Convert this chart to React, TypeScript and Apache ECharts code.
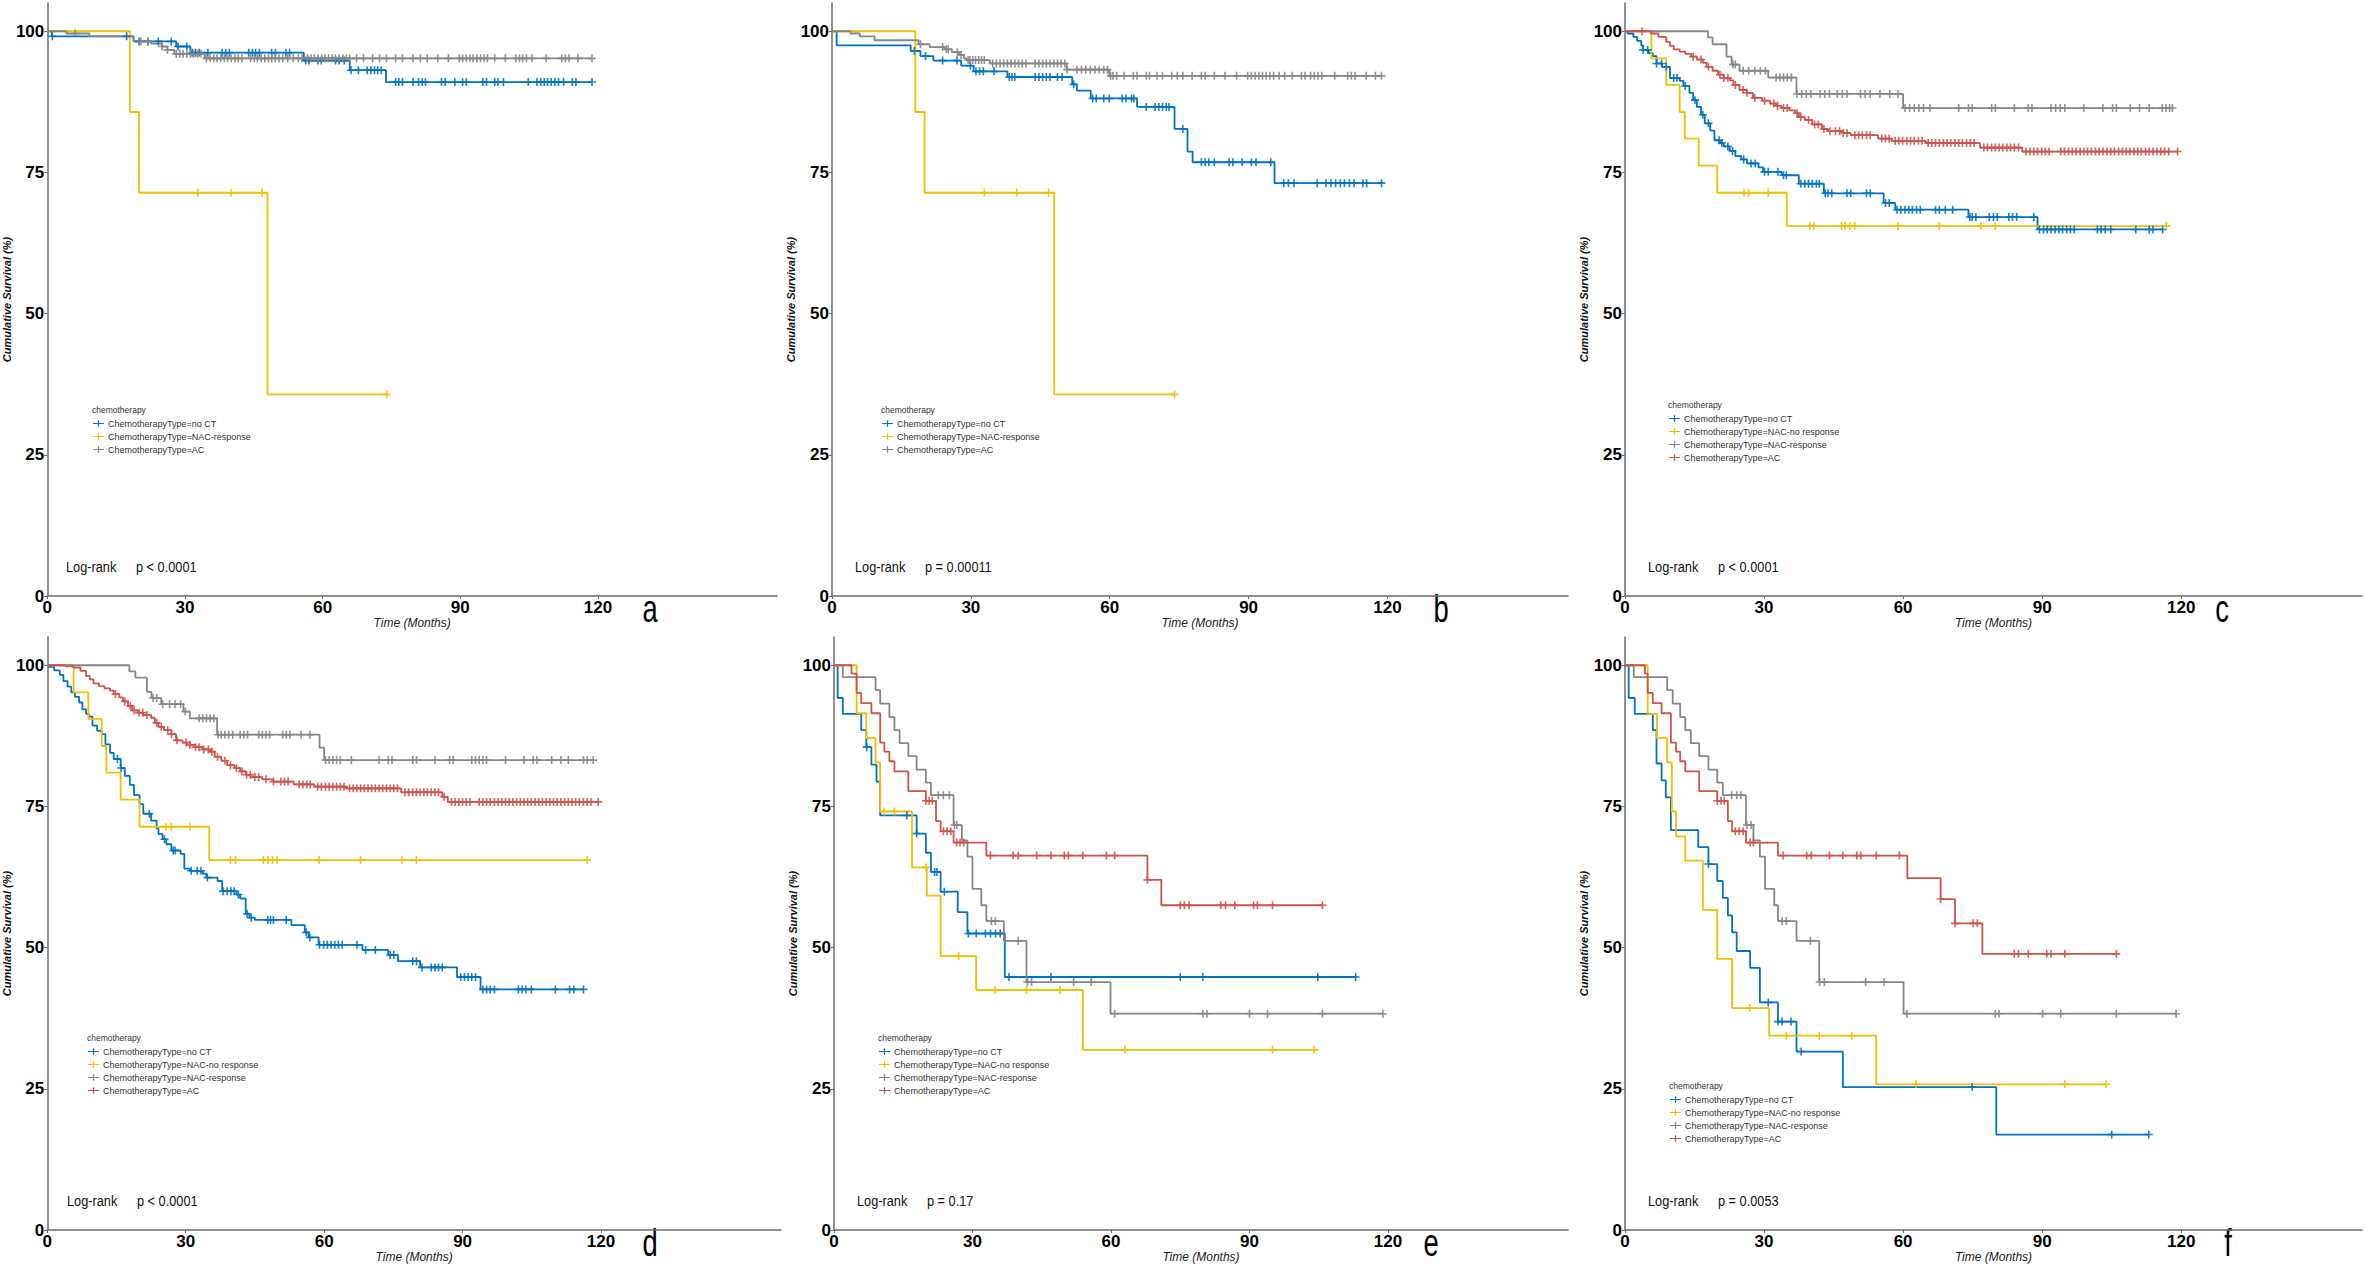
import React, { useEffect, useRef } from "react";
import * as echarts from "echarts";

// ---------------- colours / labels ----------------
const BLUE = "#0073C2";
const YELLOW = "#EFC000";
const GRAY = "#868686";
const RED = "#CD534C";

const LBL_NOCT = "ChemotherapyType=no CT";
const LBL_NACRESP = "ChemotherapyType=NAC-response";
const LBL_NACNO = "ChemotherapyType=NAC-no response";
const LBL_AC = "ChemotherapyType=AC";

const xTicks = [0, 30, 60, 90, 120];
const yTicks = [0, 25, 50, 75, 100];

// ---------------- panel a ----------------
const aNoCT_t = [0, 1.0, 18.8, 28.1, 31.2, 55.9, 65.9, 73.8, 118.7];
const aNoCT_s = [100, 99.1, 98.2, 97.3, 96.2, 94.8, 93.1, 91.0, 91.0];
const aNoCT_c = [1.1, 17.3, 20.0, 21.9, 24.2, 27.0, 28.5, 30.4, 31.6, 32.3, 33.1, 35.0, 38.1, 38.9, 39.7, 43.9, 44.7, 45.4, 46.2, 48.9, 49.7, 52.0, 52.8, 56.3, 57.0, 59.0, 59.7, 62.8, 63.6, 64.7, 66.2, 67.8, 69.7, 70.5, 71.3, 72.0, 72.8, 75.9, 76.6, 77.4, 79.7, 80.9, 81.7, 82.4, 85.9, 86.7, 88.8, 90.5, 91.3, 94.9, 95.7, 97.5, 98.2, 99.4, 104.8, 106.7, 107.5, 108.3, 109.0, 109.8, 110.6, 111.4, 112.5, 114.4, 115.2, 118.7];
const aNAC_t = [0, 18, 20, 48, 74];
const aNAC_s = [100, 85.7, 71.4, 35.7, 35.7];
const aNAC_c = [32.8, 40.0, 46.8, 74];
const aAC_t = [0, 4.2, 9.2, 18.8, 22.7, 25.0, 26.2, 27.7, 34.3, 118.7];
const aAC_s = [100, 99.6, 99.1, 98.2, 97.8, 97.3, 96.7, 96.0, 95.2, 95.2];
const aAC_c = [6.1, 20.4, 21.9, 25.0, 26.2, 28.1, 28.9, 29.6, 30.4, 31.2, 31.9, 32.7, 33.5, 34.7, 35.5, 36.3, 37.0, 37.8, 38.6, 39.3, 40.1, 40.9, 41.6, 42.4, 44.3, 45.1, 45.8, 46.6, 47.4, 48.2, 48.9, 49.7, 50.5, 51.3, 52.4, 53.6, 54.7, 55.5, 56.7, 57.5, 58.2, 59.0, 59.8, 60.5, 61.3, 62.1, 62.8, 63.6, 64.4, 65.2, 65.9, 67.4, 68.9, 70.9, 72.4, 73.9, 75.9, 77.4, 79.7, 81.3, 82.8, 85.1, 87.4, 89.8, 90.5, 91.3, 92.1, 92.8, 93.6, 94.4, 95.2, 95.9, 97.5, 99.8, 102.1, 102.9, 103.6, 104.4, 105.6, 108.7, 112.1, 112.9, 113.7, 115.6, 118.7];

// ---------------- panel b ----------------
const bNoCT_t = [0, 1.0, 17.0, 19.1, 21.9, 27.9, 30.6, 37.9, 51.9, 52.9, 55.9, 65.9, 74.0, 76.8, 77.9, 95.6, 118.7];
const bNoCT_s = [100, 97.5, 96.5, 95.6, 94.8, 93.9, 92.9, 91.9, 90.6, 89.5, 88.1, 86.6, 82.7, 78.7, 76.8, 73.1, 73.1];
const bNoCT_c = [17.8, 20.2, 23.9, 27.0, 29.9, 31.1, 31.9, 32.7, 35.0, 38.3, 38.9, 39.5, 43.9, 44.7, 45.5, 46.3, 47.1, 48.7, 49.7, 52.2, 56.3, 57.1, 58.7, 59.9, 62.7, 63.5, 64.7, 65.2, 67.9, 69.8, 70.6, 71.4, 72.2, 72.8, 75.8, 79.8, 80.6, 81.4, 82.6, 85.8, 86.6, 88.6, 90.6, 91.6, 94.8, 97.6, 98.6, 99.8, 104.8, 106.7, 107.8, 108.8, 109.8, 110.7, 111.8, 112.8, 114.7, 115.5, 118.7];
const bNAC_t = [0, 18, 20, 48, 74];
const bNAC_s = [100, 85.7, 71.4, 35.7, 35.7];
const bNAC_c = [32.9, 39.9, 46.8, 74];
const bAC_t = [0, 4.0, 6.0, 9.2, 18.7, 21.1, 24.3, 25.9, 27.5, 28.5, 29.1, 34.1, 50.7, 59.9, 118.7];
const bAC_s = [100, 99.6, 99.1, 98.4, 97.7, 97.2, 96.8, 96.3, 95.8, 95.2, 94.9, 94.3, 93.2, 92.1, 92.1];
const bAC_c = [19.1, 23.9, 24.7, 25.1, 27.1, 27.9, 29.4, 29.8, 30.4, 31.0, 31.7, 32.3, 32.9, 34.7, 35.5, 36.3, 37.1, 37.9, 38.7, 39.5, 40.3, 41.1, 41.9, 43.9, 44.7, 45.5, 46.3, 47.1, 47.9, 48.7, 49.5, 50.3, 50.8, 52.9, 53.9, 54.8, 55.8, 56.8, 57.7, 58.7, 59.5, 60.2, 60.7, 61.5, 63.1, 65.1, 65.9, 67.9, 68.6, 70.2, 71.4, 73.4, 74.6, 75.8, 77.8, 79.8, 80.6, 82.6, 84.9, 87.4, 89.8, 90.6, 91.4, 92.2, 93.0, 93.8, 94.6, 95.4, 96.6, 97.8, 99.4, 101.4, 102.2, 103.4, 104.2, 105.0, 105.8, 108.6, 111.4, 112.2, 113.0, 115.4, 117.4, 118.7];

// ---------------- panel c ----------------
const cNoCT_t = [0, 0.6, 1.8, 2.6, 3.5, 3.9, 5.1, 6.0, 6.8, 8.0, 9.7, 11.8, 12.6, 13.9, 14.7, 15.5, 16.4, 17.2, 18.4, 19.3, 20.5, 21.3, 22.6, 23.8, 25.1, 26.3, 28.8, 29.8, 33.8, 37.5, 42.9, 55.8, 58.3, 74.1, 89.0, 116.0];
const cNoCT_s = [100, 99.6, 99.0, 98.3, 97.5, 96.7, 96.1, 95.6, 94.3, 93.7, 91.7, 91.2, 90.3, 89.1, 87.8, 86.6, 85.2, 83.7, 82.4, 80.7, 80.2, 79.6, 78.8, 77.9, 77.3, 76.6, 75.9, 75.1, 74.5, 73.0, 71.3, 69.6, 68.4, 67.1, 64.9, 64.9];
const cNoCT_c = [3.9, 4.9, 6.8, 7.9, 8.9, 10.5, 11.2, 13.0, 15.1, 16.8, 18.0, 20.3, 20.9, 22.2, 23.2, 25.6, 27.2, 28.1, 30.1, 30.9, 33.0, 34.2, 34.8, 37.9, 38.8, 39.6, 40.4, 41.3, 41.9, 43.2, 43.8, 44.6, 47.9, 48.7, 52.1, 52.9, 56.2, 57.0, 58.7, 59.5, 60.4, 61.2, 62.0, 62.9, 63.7, 67.0, 67.8, 69.1, 70.7, 74.4, 74.9, 75.7, 78.6, 79.5, 80.3, 82.8, 83.6, 84.5, 88.2, 89.4, 90.3, 91.1, 91.9, 92.8, 93.6, 94.4, 95.3, 96.1, 96.9, 101.9, 102.7, 103.6, 104.8, 110.2, 113.1, 113.9, 116.0];
const cNACno_t = [0, 5.7, 8.9, 11.8, 12.9, 15.9, 19.9, 34.9, 116.8];
const cNACno_s = [100, 95.2, 90.5, 85.7, 81.0, 76.2, 71.4, 65.5, 65.5];
const cNACno_c = [25.7, 26.7, 30.9, 39.9, 40.7, 46.7, 47.5, 48.5, 49.6, 58.9, 67.8, 76.8, 79.9, 116.8];
const cNACresp_t = [0, 17.9, 18.9, 21.9, 23.0, 24.7, 30.9, 37.0, 60.0, 118.1];
const cNACresp_s = [100, 98.9, 97.7, 95.5, 94.1, 93.0, 91.8, 88.9, 86.4, 86.4];
const cNACresp_c = [23.3, 23.8, 25.5, 26.7, 28.0, 29.2, 30.3, 32.6, 33.4, 34.2, 35.0, 35.9, 37.1, 38.1, 39.1, 40.1, 42.1, 43.1, 44.1, 45.8, 46.9, 47.9, 50.8, 51.8, 52.9, 55.0, 57.1, 58.9, 60.4, 61.4, 62.4, 63.4, 64.4, 65.8, 72.0, 74.1, 74.9, 79.1, 79.9, 84.0, 87.0, 87.8, 91.9, 92.9, 93.9, 94.9, 99.0, 103.1, 105.2, 106.0, 109.0, 111.0, 113.1, 115.9, 116.7, 117.5, 118.1];
const cAC_t = [0, 5.6, 7.2, 8.9, 9.7, 10.5, 11.8, 13.0, 14.3, 15.5, 16.8, 17.6, 18.9, 20.1, 21.3, 22.6, 23.4, 24.7, 26.3, 27.6, 29.6, 31.3, 32.6, 33.8, 35.5, 36.7, 37.5, 38.8, 40.4, 42.5, 43.8, 47.1, 48.7, 54.6, 57.5, 64.9, 76.6, 85.7, 119.2];
const cAC_s = [100, 99.6, 99.0, 98.1, 97.4, 96.8, 96.4, 96.0, 95.5, 95.0, 94.4, 93.7, 93.0, 92.3, 91.7, 91.3, 90.5, 89.6, 89.1, 88.2, 87.7, 87.2, 86.8, 86.4, 86.0, 85.5, 84.8, 84.3, 83.5, 82.7, 82.3, 82.0, 81.6, 81.0, 80.6, 80.2, 79.4, 78.7, 78.7];
const cAC_c = [3.7, 14.7, 16.4, 18.0, 20.5, 21.3, 22.2, 23.8, 25.5, 26.3, 28.0, 30.1, 32.1, 32.9, 34.2, 35.0, 37.1, 37.9, 39.6, 40.9, 41.7, 42.9, 44.2, 45.4, 46.3, 47.1, 47.9, 49.6, 50.4, 51.2, 52.1, 52.9, 55.4, 56.2, 57.0, 58.3, 59.1, 59.9, 60.8, 61.6, 62.4, 63.3, 64.1, 65.4, 66.2, 67.0, 67.8, 68.7, 69.5, 70.3, 71.2, 72.0, 72.8, 73.7, 74.5, 75.3, 77.4, 78.2, 79.1, 79.9, 80.7, 81.5, 82.4, 83.2, 84.0, 84.9, 86.5, 87.4, 88.2, 89.0, 89.9, 90.7, 91.5, 94.0, 94.8, 95.7, 96.5, 97.3, 98.2, 99.0, 99.8, 100.6, 101.5, 102.3, 103.1, 104.0, 104.8, 105.6, 106.5, 107.3, 108.1, 108.9, 109.8, 110.6, 111.4, 112.3, 113.1, 113.9, 114.8, 115.6, 116.4, 117.3, 119.2];

// ---------------- panel d ----------------
const dNoCT_t = [0, 0.3, 1.5, 2.7, 3.5, 4.4, 5.2, 6.0, 6.9, 7.6, 8.4, 9.0, 9.8, 10.8, 11.8, 12.6, 13.6, 14.4, 15.9, 16.8, 17.9, 18.8, 20.0, 20.8, 22.5, 23.7, 24.1, 25.0, 25.8, 26.9, 28.9, 29.7, 30.9, 33.7, 34.5, 36.9, 37.9, 41.0, 41.8, 43.0, 43.8, 45.0, 52.9, 55.8, 56.6, 58.8, 68.3, 73.9, 76.0, 80.8, 88.8, 93.9, 116.2];
const dNoCT_s = [100, 99.7, 99.1, 98.3, 97.2, 96.2, 95.2, 94.4, 93.4, 92.2, 91.4, 90.9, 89.3, 88.4, 87.8, 86.0, 84.5, 83.4, 81.8, 80.4, 78.8, 77.0, 75.4, 73.7, 72.5, 71.1, 70.1, 69.2, 68.3, 67.2, 66.6, 64.0, 63.6, 63.1, 62.4, 61.8, 60.0, 59.4, 58.7, 56.0, 55.3, 54.9, 54.0, 52.7, 51.8, 50.5, 49.6, 48.7, 47.6, 46.5, 44.8, 42.6, 42.6];
const dNoCT_c = [15.2, 16.0, 22.1, 25.4, 27.3, 27.7, 31.2, 32.5, 33.3, 34.7, 38.1, 39.0, 39.8, 40.5, 41.4, 43.3, 44.2, 47.8, 48.4, 49.0, 51.8, 56.1, 56.9, 59.0, 59.9, 60.7, 61.5, 62.3, 63.1, 63.9, 67.1, 69.0, 71.1, 74.3, 75.1, 79.2, 80.0, 81.2, 83.2, 84.0, 84.8, 85.6, 89.6, 90.4, 91.2, 92.0, 92.8, 94.4, 95.2, 96.0, 96.9, 102.1, 102.9, 103.7, 104.9, 110.1, 113.2, 114.1, 116.2];
const dNACno_t = [0, 5.7, 8.9, 11.8, 12.8, 15.9, 20.0, 35.1, 117.0];
const dNACno_s = [100, 95.2, 90.5, 85.7, 81.0, 76.2, 71.4, 65.5, 65.5];
const dNACno_c = [25.7, 26.9, 30.9, 39.7, 40.8, 46.8, 47.8, 48.8, 49.8, 58.9, 67.9, 76.9, 80.0, 117.0];
const dNACresp_t = [0, 17.8, 19.1, 21.6, 22.6, 24.7, 29.5, 30.9, 36.8, 59.0, 60.0, 118.3];
const dNACresp_s = [100, 98.9, 97.8, 95.3, 94.2, 93.1, 91.8, 90.6, 87.7, 85.4, 83.2, 83.2];
const dNACresp_c = [22.9, 23.7, 25.0, 26.5, 27.7, 28.9, 29.9, 32.9, 33.7, 34.5, 35.3, 36.1, 37.0, 37.7, 38.5, 39.3, 40.2, 41.8, 42.6, 43.4, 45.8, 46.6, 47.4, 48.2, 51.0, 51.8, 52.6, 55.0, 56.9, 60.3, 61.1, 61.9, 62.7, 63.5, 65.9, 71.9, 73.9, 74.7, 79.2, 80.0, 84.0, 87.2, 88.0, 92.0, 92.8, 93.6, 94.4, 95.2, 99.3, 103.3, 105.3, 106.1, 109.3, 111.3, 112.9, 116.2, 117.0, 118.3];
const dAC_t = [0, 4.0, 5.6, 7.2, 8.4, 9.2, 10.0, 11.2, 12.4, 13.6, 14.4, 15.6, 16.4, 17.5, 18.4, 19.6, 20.8, 22.5, 23.3, 24.1, 25.3, 26.9, 27.9, 29.3, 30.9, 32.1, 33.7, 35.3, 36.3, 37.7, 39.0, 40.6, 41.8, 43.0, 44.2, 46.6, 49.0, 53.4, 57.8, 64.7, 76.7, 85.6, 86.8, 119.4];
const dAC_s = [100, 99.8, 99.6, 99.0, 98.1, 97.5, 96.8, 96.3, 95.9, 95.5, 94.9, 94.3, 93.6, 92.8, 92.0, 91.6, 91.2, 90.7, 89.8, 89.1, 88.5, 87.8, 86.7, 86.3, 85.9, 85.5, 85.1, 84.7, 83.8, 83.1, 82.3, 81.8, 81.2, 80.6, 80.2, 79.8, 79.4, 78.9, 78.5, 78.2, 77.5, 76.7, 75.8, 75.8];
const dAC_c = [14.8, 16.8, 18.0, 18.8, 19.9, 20.7, 21.6, 23.7, 24.7, 26.1, 26.9, 28.1, 30.1, 30.9, 32.1, 32.9, 33.9, 34.9, 35.7, 36.9, 38.5, 39.7, 41.0, 42.2, 43.2, 44.0, 45.0, 45.8, 47.4, 49.0, 50.6, 51.4, 52.2, 54.6, 55.4, 56.2, 57.0, 58.6, 59.4, 60.3, 61.1, 61.9, 62.7, 63.5, 64.3, 65.5, 66.3, 67.1, 67.9, 68.7, 69.5, 70.3, 71.1, 71.9, 72.7, 73.5, 74.3, 75.1, 75.9, 77.5, 78.3, 79.2, 80.0, 80.8, 81.6, 82.4, 83.2, 84.0, 84.8, 86.0, 87.6, 88.4, 89.2, 90.0, 90.8, 91.6, 93.6, 94.4, 95.2, 96.0, 96.9, 97.7, 98.5, 99.3, 100.1, 100.9, 101.7, 102.5, 103.3, 104.1, 104.9, 105.7, 106.5, 107.3, 108.1, 108.9, 109.7, 110.5, 111.3, 112.1, 112.9, 113.7, 114.5, 115.3, 116.2, 117.0, 117.8, 119.4];

// ---------------- panel e ----------------
const eNoCT_t = [0, 0.8, 1.9, 5.9, 7.0, 8.1, 9.2, 10.0, 17.9, 19.9, 21.0, 23.1, 26.8, 28.9, 37.0, 113.0];
const eNoCT_s = [100, 94.2, 91.4, 88.5, 85.5, 82.4, 79.4, 73.4, 70.2, 66.8, 63.4, 59.9, 56.3, 52.5, 44.8, 44.8];
const eNoCT_c = [7.1, 15.8, 17.9, 21.8, 22.3, 23.9, 29.1, 30.8, 32.8, 33.9, 35.0, 36.0, 37.9, 47.0, 75.0, 79.9, 104.8, 113.0];
const eNACno_t = [0, 4.9, 7.0, 9.0, 10.0, 16.9, 20.1, 23.1, 30.8, 53.9, 104.0];
const eNACno_s = [100, 91.5, 87.1, 82.8, 74.1, 64.2, 59.2, 48.5, 42.5, 31.9, 31.9];
const eNACno_c = [10.9, 13.1, 19.9, 27.0, 34.9, 41.7, 49.0, 63.0, 95.0, 104.0];
const eNACresp_t = [0, 1.9, 9.0, 10.0, 12.0, 13.1, 14.2, 16.1, 17.9, 19.9, 21.0, 25.9, 27.7, 28.9, 30.0, 31.9, 33.0, 36.8, 41.7, 59.9, 118.9];
const eNACresp_s = [100, 97.9, 95.6, 93.2, 90.8, 88.5, 86.2, 83.9, 81.5, 79.2, 77.0, 71.7, 69.0, 66.1, 60.4, 57.5, 54.7, 51.2, 43.9, 38.3, 38.3];
const eNACresp_c = [22.6, 23.7, 25.0, 26.1, 26.6, 34.1, 34.9, 39.9, 41.9, 42.8, 51.9, 55.7, 60.8, 79.9, 80.8, 90.0, 93.9, 105.8, 118.9];
const eAC_t = [0, 3.8, 4.9, 5.9, 8.1, 10.0, 10.9, 12.0, 13.1, 16.1, 19.9, 22.1, 23.1, 25.9, 33.0, 67.9, 70.9, 105.8];
const eAC_s = [100, 98.5, 95.1, 93.3, 91.5, 86.3, 84.7, 83.0, 81.2, 77.7, 76.0, 72.4, 70.6, 68.6, 66.3, 62.0, 57.5, 57.5];
const eAC_c = [19.9, 20.6, 21.3, 23.7, 24.5, 25.3, 26.6, 27.3, 28.1, 33.9, 38.8, 39.9, 43.9, 47.0, 49.9, 50.8, 53.9, 59.0, 60.8, 67.9, 75.0, 75.9, 76.9, 83.8, 84.8, 86.8, 90.9, 91.7, 95.0, 105.8];

// ---------------- panel f ----------------
const fNoCT_t = [0, 0.8, 2.1, 6.0, 6.8, 7.9, 8.8, 9.9, 15.8, 18.0, 19.9, 21.1, 22.2, 23.1, 24.1, 27.0, 29.1, 33.0, 37.0, 47.0, 80.1, 113.0];
const fNoCT_s = [100, 94.2, 91.4, 88.5, 82.6, 79.6, 76.6, 70.8, 67.8, 64.8, 61.8, 58.8, 55.7, 52.7, 49.4, 46.4, 40.3, 36.9, 31.6, 25.3, 16.9, 16.9];
const fNoCT_c = [18.0, 30.9, 33.0, 33.9, 35.8, 38.0, 74.9, 105.0, 113.0];
const fNACno_t = [0, 4.9, 6.9, 9.1, 10.1, 11.0, 13.0, 16.8, 19.9, 23.1, 31.1, 54.2, 103.8];
const fNACno_s = [100, 91.4, 87.1, 82.8, 74.1, 69.7, 65.4, 56.7, 48.0, 39.3, 34.4, 25.8, 25.8];
const fNACno_c = [26.9, 34.8, 41.9, 48.9, 62.8, 94.9, 103.8];
const fNACresp_t = [0, 1.9, 9.1, 10.3, 11.9, 13.0, 14.2, 16.0, 18.0, 19.9, 21.1, 26.1, 27.7, 29.1, 30.2, 32.2, 33.0, 37.0, 41.9, 60.1, 118.9];
const fNACresp_s = [100, 97.9, 95.6, 93.2, 90.8, 88.5, 86.2, 83.9, 81.5, 79.2, 77.0, 71.7, 69.0, 66.1, 60.4, 57.5, 54.7, 51.2, 43.9, 38.3, 38.3];
const fNACresp_c = [23.0, 24.1, 25.0, 26.3, 27.2, 33.9, 34.8, 40.0, 42.0, 43.0, 51.9, 55.9, 60.8, 79.9, 80.7, 90.1, 94.0, 106.0, 118.9];
const fAC_t = [0, 4.3, 4.9, 6.0, 7.9, 9.9, 11.0, 11.9, 13.0, 16.0, 19.9, 22.2, 23.1, 26.1, 33.0, 60.9, 68.1, 71.2, 77.1, 106.0];
const fAC_s = [100, 98.5, 95.1, 93.3, 91.5, 86.3, 84.7, 83.0, 81.2, 77.7, 76.0, 72.4, 70.6, 68.6, 66.3, 62.3, 58.6, 54.3, 48.9, 48.9];
const fAC_c = [19.9, 20.7, 21.4, 23.8, 24.6, 25.5, 27.0, 27.7, 34.1, 39.2, 40.2, 44.1, 47.0, 50.0, 50.9, 54.2, 59.2, 68.1, 71.2, 75.1, 76.0, 84.0, 84.9, 87.0, 91.0, 91.9, 94.9, 106.0];

const pValues = ["p < 0.0001", "p = 0.00011", "p < 0.0001", "p < 0.0001", "p = 0.17", "p = 0.0053"];
const panelLetters = ["a", "b", "c", "d", "e", "f"];

// ---------------- layout (pixels) ----------------
const NARROW = "'Liberation Sans Narrow', 'Arial Narrow', 'Liberation Sans', sans-serif";
const SANS = "'Liberation Sans', Arial, sans-serif";
const X_MAX = 159;
const Y_MAX = 105;

type Curve = { label: string; color: string; t: number[]; s: number[]; c: number[] };
type Layout = { left: number; top: number; width: number; height: number; legX: number; legY: number; letterX: number; letterY: number };

const layouts: Layout[] = [
  { left: 43, top: 3, width: 734, height: 593, legX: 92, legY: 410, letterX: 650, letterY: 628 },
  { left: 832, top: 3, width: 736, height: 593, legX: 881, legY: 410, letterX: 1441, letterY: 628 },
  { left: 1625, top: 3, width: 737, height: 593, legX: 1668, legY: 405, letterX: 2222, letterY: 628 },
  { left: 44, top: 637, width: 737, height: 593, legX: 87, legY: 1038, letterX: 650, letterY: 1262 },
  { left: 834, top: 637, width: 734, height: 593, legX: 878, legY: 1038, letterX: 1431, letterY: 1262 },
  { left: 1625, top: 637, width: 737, height: 593, legX: 1669, legY: 1086, letterX: 2228, letterY: 1262 },
];

const panels: Curve[][] = [
  [
    { label: LBL_NOCT, color: BLUE, t: aNoCT_t, s: aNoCT_s, c: aNoCT_c },
    { label: LBL_NACRESP, color: YELLOW, t: aNAC_t, s: aNAC_s, c: aNAC_c },
    { label: LBL_AC, color: GRAY, t: aAC_t, s: aAC_s, c: aAC_c },
  ],
  [
    { label: LBL_NOCT, color: BLUE, t: bNoCT_t, s: bNoCT_s, c: bNoCT_c },
    { label: LBL_NACRESP, color: YELLOW, t: bNAC_t, s: bNAC_s, c: bNAC_c },
    { label: LBL_AC, color: GRAY, t: bAC_t, s: bAC_s, c: bAC_c },
  ],
  [
    { label: LBL_NOCT, color: BLUE, t: cNoCT_t, s: cNoCT_s, c: cNoCT_c },
    { label: LBL_NACNO, color: YELLOW, t: cNACno_t, s: cNACno_s, c: cNACno_c },
    { label: LBL_NACRESP, color: GRAY, t: cNACresp_t, s: cNACresp_s, c: cNACresp_c },
    { label: LBL_AC, color: RED, t: cAC_t, s: cAC_s, c: cAC_c },
  ],
  [
    { label: LBL_NOCT, color: BLUE, t: dNoCT_t, s: dNoCT_s, c: dNoCT_c },
    { label: LBL_NACNO, color: YELLOW, t: dNACno_t, s: dNACno_s, c: dNACno_c },
    { label: LBL_NACRESP, color: GRAY, t: dNACresp_t, s: dNACresp_s, c: dNACresp_c },
    { label: LBL_AC, color: RED, t: dAC_t, s: dAC_s, c: dAC_c },
  ],
  [
    { label: LBL_NOCT, color: BLUE, t: eNoCT_t, s: eNoCT_s, c: eNoCT_c },
    { label: LBL_NACNO, color: YELLOW, t: eNACno_t, s: eNACno_s, c: eNACno_c },
    { label: LBL_NACRESP, color: GRAY, t: eNACresp_t, s: eNACresp_s, c: eNACresp_c },
    { label: LBL_AC, color: RED, t: eAC_t, s: eAC_s, c: eAC_c },
  ],
  [
    { label: LBL_NOCT, color: BLUE, t: fNoCT_t, s: fNoCT_s, c: fNoCT_c },
    { label: LBL_NACNO, color: YELLOW, t: fNACno_t, s: fNACno_s, c: fNACno_c },
    { label: LBL_NACRESP, color: GRAY, t: fNACresp_t, s: fNACresp_s, c: fNACresp_c },
    { label: LBL_AC, color: RED, t: fAC_t, s: fAC_s, c: fAC_c },
  ],
];

const PLUS = "path://M4,0H6V4H10V6H6V10H4V6H0V4H4Z";
const LEG_ICON = "path://M0,3.4H12V4.6H0Z M5.3,0.5H6.7V7.5H5.3Z";
const AXIS_COLOR = "#6b6b6b";

function survAt(t: number[], s: number[], time: number): number {
  let v = s[0];
  for (let i = 0; i < t.length; i++) {
    if (t[i] <= time + 1e-9) v = s[i];
    else break;
  }
  return v;
}

function buildOption() {
  const grid: any[] = [];
  const xAxis: any[] = [];
  const yAxis: any[] = [];
  const series: any[] = [];
  const legend: any[] = [];
  const graphic: any[] = [];

  panels.forEach((curves, i) => {
    const L = layouts[i];
    grid.push({ left: L.left, top: L.top, width: L.width, height: L.height, containLabel: false });
    xAxis.push({
      type: "value",
      gridIndex: i,
      min: 0,
      max: X_MAX,
      splitLine: { show: false },
      axisLine: { show: true, lineStyle: { color: AXIS_COLOR, width: 1.5 } },
      axisTick: { show: true, length: 3, customValues: xTicks, lineStyle: { color: AXIS_COLOR, width: 1 } },
      axisLabel: { customValues: xTicks, margin: 3, fontFamily: NARROW, fontWeight: "bold", fontSize: 17, color: "#000" },
      name: "Time (Months)",
      nameLocation: "middle",
      nameGap: 19,
      nameTextStyle: { fontFamily: NARROW, fontStyle: "italic", fontSize: 12, color: "#222" },
    });
    yAxis.push({
      type: "value",
      gridIndex: i,
      min: 0,
      max: Y_MAX,
      splitLine: { show: false },
      axisLine: { show: true, lineStyle: { color: AXIS_COLOR, width: 1.5 } },
      axisTick: { show: true, length: 3, customValues: yTicks, lineStyle: { color: AXIS_COLOR, width: 1 } },
      axisLabel: { customValues: yTicks, margin: 3, fontFamily: NARROW, fontWeight: "bold", fontSize: 17, color: "#000" },
      name: "Cumulative Survival (%)",
      nameLocation: "middle",
      nameGap: 26,
      nameTextStyle: { fontFamily: SANS, fontStyle: "italic", fontWeight: "bold", fontSize: 11, color: "#111" },
    });

    const names: string[] = [];
    curves.forEach((cv) => {
      const name = panelLetters[i] + "|" + cv.label;
      names.push(name);
      const pts = cv.t.map((tt, k) => [tt, cv.s[k]]);
      series.push({
        type: "line",
        name,
        xAxisIndex: i,
        yAxisIndex: i,
        step: "end",
        data: pts,
        showSymbol: false,
        symbol: "none",
        silent: true,
        lineStyle: { color: cv.color, width: 1.8 },
        itemStyle: { color: cv.color },
        z: 2,
      });
      series.push({
        type: "scatter",
        name,
        xAxisIndex: i,
        yAxisIndex: i,
        data: cv.c.map((ct) => [ct, survAt(cv.t, cv.s, ct)]),
        symbol: PLUS,
        symbolSize: 8,
        silent: true,
        itemStyle: { color: cv.color, opacity: 0.9 },
        z: 3,
      });
    });

    legend.push({
      orient: "vertical",
      left: L.legX + 1,
      top: L.legY + 9,
      data: names.map((n, k) => ({ name: n, icon: LEG_ICON, itemStyle: { color: curves[k].color } })),
      itemWidth: 11,
      itemHeight: 8,
      itemGap: 4,
      padding: 0,
      selectedMode: false,
      formatter: (n: string) => n.split("|")[1],
      textStyle: { fontFamily: NARROW, fontSize: 9, color: "#333", padding: [0, 0, 0, -1] },
    });

    graphic.push({
      type: "text",
      left: L.legX,
      top: L.legY - 5,
      style: { text: "chemotherapy", fontFamily: NARROW, fontSize: 8.5, fill: "#333" },
    });
    graphic.push({
      type: "text",
      x: L.left + 23,
      y: L.top + L.height - 29,
      scaleX: 0.85,
      style: { text: "Log-rank", fontFamily: NARROW, fontSize: 15, fill: "#111", verticalAlign: "middle" },
    });
    graphic.push({
      type: "text",
      x: L.left + 93,
      y: L.top + L.height - 29,
      scaleX: 0.85,
      style: { text: pValues[i], fontFamily: NARROW, fontSize: 15, fill: "#111", verticalAlign: "middle" },
    });
    graphic.push({
      type: "text",
      x: L.letterX,
      y: L.letterY,
      scaleX: 0.72,
      style: { text: panelLetters[i], fontFamily: NARROW, fontSize: 38, fill: "#000", align: "center", verticalAlign: "bottom" },
    });
  });

  return {
    animation: false,
    backgroundColor: "#ffffff",
    grid,
    xAxis,
    yAxis,
    series,
    legend,
    graphic,
  };
}

export default function App() {
  const ref = useRef<HTMLDivElement>(null);
  useEffect(() => {
    document.body.style.margin = "0";
    const chart = echarts.init(ref.current as HTMLDivElement, null, { renderer: "svg" });
    chart.setOption(buildOption() as any);
    return () => {
      chart.dispose();
    };
  }, []);
  return <div ref={ref} style={{ width: 2366, height: 1264, background: "#fff" }} />;
}
